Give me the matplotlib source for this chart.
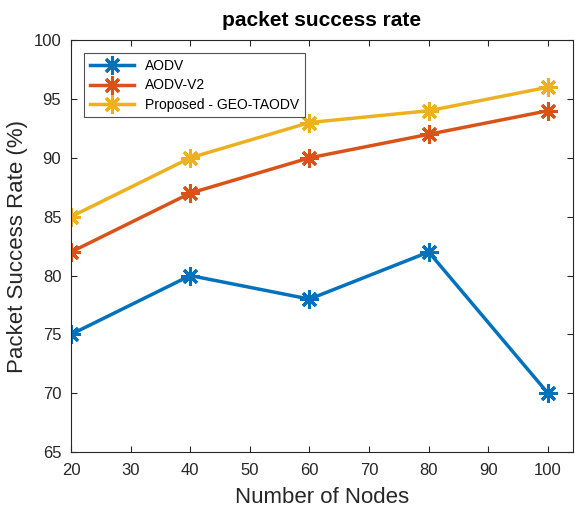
import matplotlib
matplotlib.use("Agg")
from matplotlib import pyplot as plt

plt.rcParams['font.family'] = ['Liberation Sans', 'DejaVu Sans']

# data
nodes = [20, 40, 60, 80, 100]
aodv = [75, 80, 78, 82, 70]
aodv_v2 = [82, 87, 90, 92, 94]
geo_taodv = [85, 90, 93, 94, 96]

fig = plt.figure(figsize=(5.75, 5.08), dpi=100)
ax = fig.add_axes([0.1235, 0.110, 0.873, 0.811])

# MATLAB-like asterisk marker
star = (8, 2, 0)
ax.plot(nodes, aodv, color='#0072BD', lw=2.5, marker=star, ms=13, mew=2.2, label='AODV')
ax.plot(nodes, aodv_v2, color='#D95319', lw=2.5, marker=star, ms=13, mew=2.2, label='AODV-V2')
ax.plot(nodes, geo_taodv, color='#EDB120', lw=2.5, marker=star, ms=13, mew=2.2,
        label='Proposed - GEO-TAODV')

ax.set_xlim(20, 104.2)
ax.set_ylim(65, 100)
ax.set_xticks(range(20, 101, 10))
ax.set_yticks(range(65, 101, 5))
ax.tick_params(direction='in', top=True, right=True, labelsize=12, colors='#262626',
               length=4, width=0.8)
ax.tick_params(axis='x', pad=8)
ax.tick_params(axis='y', pad=7)
for s in ax.spines.values():
    s.set_color('#262626')
    s.set_linewidth(0.8)

ax.set_title('packet success rate', fontsize=15, fontweight='bold', pad=10)
ax.set_xlabel('Number of Nodes', fontsize=16, color='#262626', labelpad=6)
ax.set_ylabel('Packet Success Rate (%)', fontsize=16, color='#262626', labelpad=4)

leg = ax.legend(loc='upper left', fontsize=10, fancybox=False, edgecolor='#262626',
                handlelength=3.2, borderpad=0.4, labelspacing=0.4,
                bbox_to_anchor=(0.012, 0.985))
leg.get_frame().set_linewidth(0.8)

plt.savefig('out.png', dpi=100)
